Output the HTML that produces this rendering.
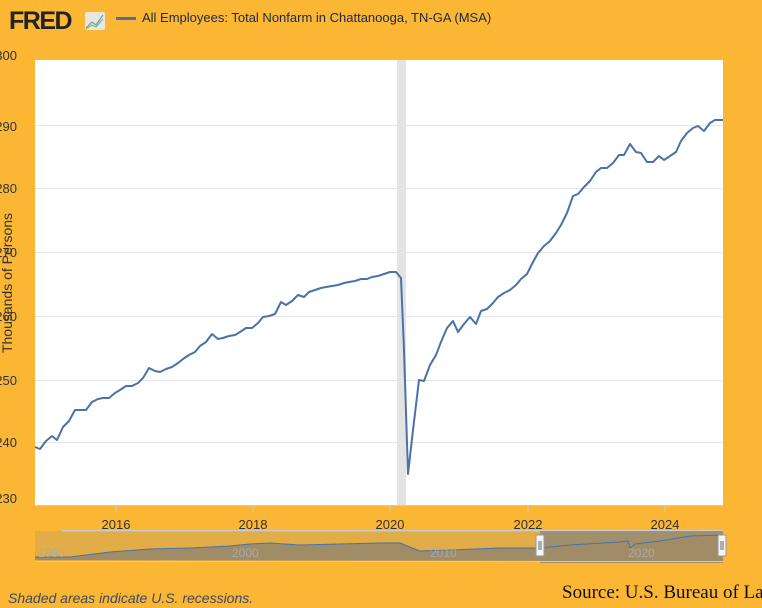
<!DOCTYPE html>
<html><head><style>
body{margin:0;width:762px;height:608px;background:#fbb634;overflow:hidden;font-family:"Liberation Sans",sans-serif;}
</style></head><body>
<svg width="762" height="608" xmlns="http://www.w3.org/2000/svg" style="position:absolute;left:0;top:0">
<text x="9" y="29" font-family="Liberation Sans" font-weight="bold" font-size="25" fill="#222" letter-spacing="-1.5">FRED</text>
<rect x="85" y="12" width="20" height="18" rx="2" fill="#e8e8e0"/>
<polyline points="86,28 92,22 96,25 103,15" fill="none" stroke="#6a9ac8" stroke-width="1.2"/>
<polyline points="86,29 92,25 96,27 103,19" fill="none" stroke="#8ab870" stroke-width="1.2"/>
<rect x="116" y="17" width="20" height="3" fill="#4a72a8"/>
<text x="142" y="22" font-size="13" fill="#1a2a44">All Employees: Total Nonfarm in Chattanooga, TN-GA (MSA)</text>
<rect x="35" y="60" width="688" height="445" fill="#fff"/>
<rect x="397" y="60" width="9" height="445" fill="#e3e3e3"/>
<g stroke="#e6e6e6" stroke-width="1">
<line x1="35" x2="723" y1="125.5" y2="125.5"/><line x1="35" x2="723" y1="188.5" y2="188.5"/>
<line x1="35" x2="723" y1="252.5" y2="252.5"/><line x1="35" x2="723" y1="316.5" y2="316.5"/>
<line x1="35" x2="723" y1="380.5" y2="380.5"/><line x1="35" x2="723" y1="442.5" y2="442.5"/>
</g>
<line x1="35" x2="723" y1="505.5" y2="505.5" stroke="#ccc"/>
<g stroke="#ccc"><line x1="116" x2="116" y1="505" y2="512"/><line x1="253" x2="253" y1="505" y2="512"/><line x1="390" x2="390" y1="505" y2="512"/><line x1="528" x2="528" y1="505" y2="512"/><line x1="665" x2="665" y1="505" y2="512"/></g>
<g font-size="13" fill="#333" text-anchor="end">
<text x="17" y="60">300</text><text x="17" y="131">290</text><text x="17" y="193">280</text><text x="17" y="257">270</text><text x="17" y="321">260</text><text x="17" y="385">250</text><text x="17" y="447">240</text><text x="17" y="503">230</text>
</g>
<text transform="translate(12,283) rotate(-90)" font-size="14" fill="#333" text-anchor="middle">Thousands of Persons</text>
<g font-size="13" fill="#333" text-anchor="middle">
<text x="116" y="529">2016</text><text x="253" y="529">2018</text><text x="390" y="529">2020</text><text x="528" y="529">2022</text><text x="665" y="529">2024</text>
</g>
<polyline fill="none" stroke="#4a72a8" stroke-width="2" stroke-linejoin="round" points="35,447 40,449 46,441 52,436 57,440 63,427 69,421 75,410 80,410 86,410 92,402 98,399 103,398 109,398 115,393 120,390 126,386 132,386 138,383 143,378 149,368 155,371 160,372 166,369 172,367 178,363 183,359 189,355 195,352 200,346 206,342 212,334 218,339 223,338 229,336 235,335 240,332 246,328 252,328 258,323 263,317 269,316 275,314 281,302 286,305 292,301 298,295 304,297 309,292 315,290 321,288 326,287 332,286 338,285 344,283 349,282 355,281 361,279 367,279 372,277 378,276 384,274 390,272 396,272 401,278 404,350 408,474 413,430 419,380 424,381 430,365 436,355 441,342 447,328 453,321 458,332 464,324 470,317 476,324 481,311 487,309 493,303 498,297 504,293 510,290 516,285 521,279 527,274 533,262 538,253 544,246 550,241 556,233 561,225 567,213 573,196 578,194 584,187 590,181 596,172 601,168 607,168 613,163 619,155 624,155 630,144 636,152 641,153 647,162 653,162 659,156 664,160 670,156 676,152 681,141 687,133 693,128 698,126 704,131 710,123 715,120 723,120"/>
<line x1="62" x2="723" y1="531" y2="531" stroke="#ccc" stroke-width="2"/>
<rect x="35" y="531" width="505" height="30" fill="#c9a25a" opacity="0.5"/>
<rect x="540" y="531" width="183" height="32" fill="#8f8a78" opacity="0.85"/>
<polygon fill="#a08c66" points="35,560 35,557 70,557 110,552 150,549 190,548 230,546 250,544 270,543 300,545 340,544 380,543 400,543 410,547 420,551 450,550 500,548 540,548 570,545 620,542 628,541 630,548 635,544 660,541 690,536 723,535 723,561"/>
<polyline fill="none" stroke="#4a72a8" stroke-width="1" points="35,557 70,557 110,552 150,549 190,548 230,546 250,544 270,543 300,545 340,544 380,543 400,543 410,547 420,551 450,550 500,548 540,548 570,545 620,542 628,541 630,548 635,544 660,541 690,536 723,535"/>
<line x1="35" x2="723" y1="561.5" y2="561.5" stroke="#ccc"/>
<g font-size="12" fill="#aaa"><text x="38" y="557">1990</text><text x="232" y="557">2000</text><text x="430" y="557">2010</text><text x="628" y="557">2020</text></g>
<rect x="536" y="535" width="8" height="21" rx="1" fill="#f4f4f4" stroke="#999"/>
<line x1="539" x2="539" y1="541" y2="550" stroke="#666"/><line x1="541" x2="541" y1="541" y2="550" stroke="#666"/>
<rect x="718" y="535" width="8" height="21" rx="1" fill="#f4f4f4" stroke="#999"/>
<line x1="721" x2="721" y1="541" y2="550" stroke="#666"/><line x1="723" x2="723" y1="541" y2="550" stroke="#666"/>
<text x="8" y="603" font-size="14" font-style="italic" fill="#3a4a6a">Shaded areas indicate U.S. recessions.</text>
<text x="562" y="598" font-family="Liberation Serif" font-size="19" fill="#111">Source: U.S. Bureau of Labor Statistics</text>
</svg>
</body></html>
